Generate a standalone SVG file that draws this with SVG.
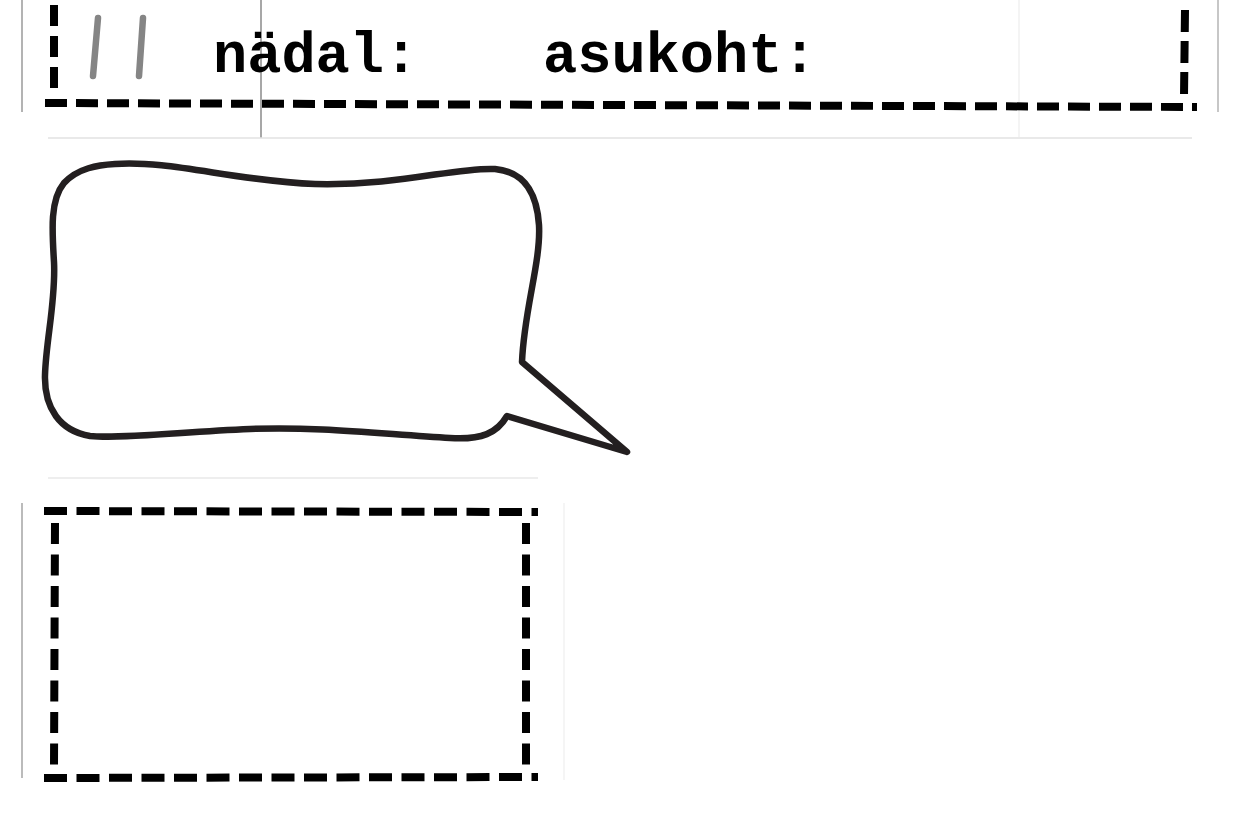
<svg xmlns="http://www.w3.org/2000/svg" width="1242" height="828" viewBox="0 0 1242 828">
  <style>
    .dash { fill: none; stroke: #000; stroke-width: 8; stroke-linecap: butt; }
    .hair { fill: none; stroke-width: 1.5; }
    .label { font-family: "Liberation Mono", "DejaVu Sans Mono", monospace; font-weight: bold; font-size: 57px; fill: #000; }
    .tally { fill: none; stroke: #858585; stroke-width: 6.5; stroke-linecap: round; }
  </style>
  <rect width="1242" height="828" fill="#fff"/>

  <g id="guides">
    <line class="hair" x1="22" y1="0" x2="22" y2="112" stroke="#9a9a9a"/>
    <line class="hair" x1="261" y1="0" x2="261" y2="138" stroke="#8a8a8a" stroke-width="1.2"/>
    <line class="hair" x1="1019" y1="0" x2="1019" y2="137" stroke="#f0f0f0"/>
    <line class="hair" x1="1218" y1="0" x2="1218" y2="112" stroke="#b5b5b5"/>
    <line class="hair" x1="48" y1="138" x2="1192" y2="138" stroke="#e2e2e2" stroke-width="2"/>
    <line class="hair" x1="48" y1="478" x2="538" y2="478" stroke="#e8e8e8" stroke-width="2"/>
    <line class="hair" x1="22" y1="503" x2="22" y2="778" stroke="#a5a5a5"/>
    <line class="hair" x1="564" y1="503" x2="564" y2="780" stroke="#f2f2f2"/>
  </g>

  <g id="header">
    <path class="dash" d="M54,5 L54,96" stroke-dasharray="21 10"/>
    <path class="dash" d="M1185,10 L1184,97" stroke-dasharray="22 9"/>
    <path class="dash" d="M45,103 L1197,107" stroke-dasharray="22 9"/>
    <line class="tally" x1="98" y1="18" x2="93" y2="76"/>
    <line class="tally" x1="143" y1="18" x2="139" y2="76"/>
    <text class="label" x="213" y="72">nädal:</text>
    <text class="label" x="543" y="72">asukoht:</text>
  </g>

  <g id="speech-bubble">
    <path d="M115,164 C170,160 235,181 315,184 C400,186 455,167 495,169 C526,172 537,195 539,225 C541,262 524,310 522,362 L627,452 L507,416 C497,433 482,440 450,438 C390,435 320,426 250,429 C180,432 120,439 90,436 C60,431 44,408 45,375 C46,340 56,300 54,262 C52,230 50,200 64,183 C78,168 98,165 115,164 Z" fill="#fff" stroke="#231f20" stroke-width="6.5" stroke-linejoin="round"/>
  </g>

  <g id="dashed-box">
    <path class="dash" d="M44,511 L538,512" stroke-dasharray="23 9.5"/>
    <path class="dash" d="M44,778 L538,777" stroke-dasharray="23 9.5"/>
    <path class="dash" d="M55,523 L54,768" stroke-dasharray="21 10.5"/>
    <path class="dash" d="M526,523 L526,768" stroke-dasharray="21 10.5"/>
  </g>
</svg>
